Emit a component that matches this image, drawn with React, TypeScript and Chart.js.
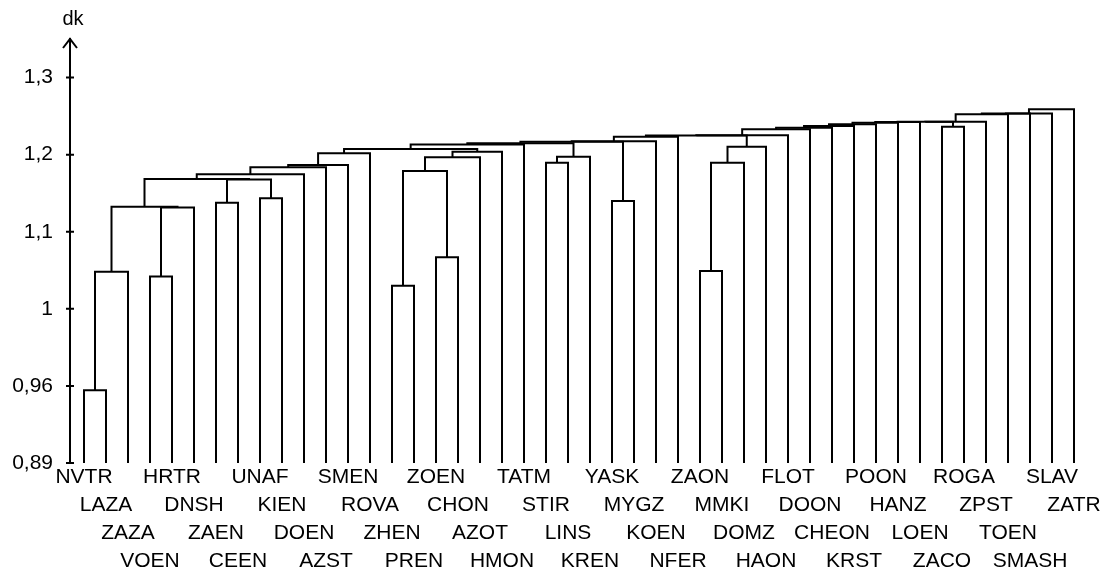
import { useEffect, useRef } from 'react';
import { Chart, registerables } from 'chart.js';

Chart.register(...registerables);

// Leaves of the dendrogram, left to right
const leafNames = [
  'NVTR', 'LAZA', 'ZAZA', 'VOEN', 'HRTR', 'DNSH', 'ZAEN', 'CEEN',
  'UNAF', 'KIEN', 'DOEN', 'AZST', 'SMEN', 'ROVA', 'ZHEN', 'PREN',
  'ZOEN', 'CHON', 'AZOT', 'HMON', 'TATM', 'STIR', 'LINS', 'KREN',
  'YASK', 'MYGZ', 'KOEN', 'NFER', 'ZAON', 'MMKI', 'DOMZ', 'HAON',
  'FLOT', 'DOON', 'CHEON', 'KRST', 'POON', 'HANZ', 'LOEN', 'ZACO',
  'ROGA', 'ZPST', 'TOEN', 'SMASH', 'SLAV', 'ZATR',
];

// Y axis tick values (non-linear scale of the original) and their labels
const yTickValues = [0.89, 0.96, 1, 1.1, 1.2, 1.3];
const yTickLabels = ['0,89', '0,96', '1', '1,1', '1,2', '1,3'];

// Merges: node ids 0..45 are leaves, merge k creates node 46 + k
const mergeLeft = [
  0, 46, 3, 48, 47, 6, 8, 51, 50, 54,
  55, 56, 57, 14, 16, 59, 61, 62, 58, 64,
  21, 66, 65, 24, 68, 70, 71, 28, 73, 74,
  72, 76, 77, 78, 79, 80, 81, 82, 39, 83,
  85, 86, 87, 88, 89,
];
const mergeRight = [
  1, 2, 4, 5, 49, 7, 9, 52, 53, 10,
  11, 12, 13, 15, 17, 60, 18, 19, 63, 20,
  22, 23, 67, 25, 69, 26, 27, 29, 30, 31,
  75, 32, 33, 34, 35, 36, 37, 38, 40, 84,
  41, 42, 43, 44, 45,
];
const mergeHeight = [
  0.956, 1.048, 1.042, 1.1315, 1.1325, 1.1376, 1.1433, 1.1678, 1.1684, 1.1745,
  1.1835, 1.1865, 1.2017, 1.030, 1.0668, 1.1787, 1.1965, 1.2038, 1.2073, 1.2131,
  1.1895, 1.1973, 1.2147, 1.1398, 1.2167, 1.2173, 1.2232, 1.049, 1.1895, 1.2103,
  1.2248, 1.2252, 1.2328, 1.2349, 1.2371, 1.2393, 1.2414, 1.2424, 1.2362, 1.2427,
  1.2428, 1.2523, 1.2533, 1.2535, 1.2588,
];

// piecewise-linear mapping of dk values onto the evenly spaced axis ticks
function toAxis(v: number): number {
  const t = yTickValues;
  for (let i = 0; i < t.length - 1; i++) {
    if (v <= t[i + 1] || i === t.length - 2) {
      return i + (v - t[i]) / (t[i + 1] - t[i]);
    }
  }
  return 0;
}

const FONT = '"Liberation Sans", Arial, sans-serif';

const axisDecor = {
  id: 'axisDecor',
  afterDraw(chart: any) {
    const ctx = chart.ctx;
    const { left, top } = chart.chartArea;
    const ys = chart.scales.y;
    ctx.save();
    ctx.strokeStyle = '#000';
    ctx.lineWidth = 2;
    ctx.beginPath();
    ctx.moveTo(left - 7, top + 9);
    ctx.lineTo(left, top);
    ctx.lineTo(left + 7, top + 9);
    yTickValues.forEach((_, i) => {
      const py = ys.getPixelForValue(i);
      ctx.moveTo(left - 4, py);
      ctx.lineTo(left + 4, py);
    });
    ctx.stroke();
    ctx.fillStyle = '#000';
    ctx.font = '20px ' + FONT;
    ctx.textAlign = 'center';
    ctx.textBaseline = 'middle';
    ctx.fillText('dk', left + 3, top - 20);
    ctx.restore();
  },
};

export default function App() {
  const ref = useRef<HTMLCanvasElement | null>(null);

  useEffect(() => {
    document.body.style.margin = '0';
    const pos: number[] = leafNames.map((_, i) => i);
    const hgt: number[] = leafNames.map(() => yTickValues[0]);
    const datasets: any[] = [];
    mergeLeft.forEach((a, k) => {
      const b = mergeRight[k];
      const h = mergeHeight[k];
      const xa = pos[a];
      const xb = pos[b];
      datasets.push({
        data: [
          { x: xa, y: toAxis(hgt[a]) },
          { x: xa, y: toAxis(h) },
          { x: xb, y: toAxis(h) },
          { x: xb, y: toAxis(hgt[b]) },
        ],
        showLine: true,
        borderColor: '#000',
        borderWidth: 2,
        pointRadius: 0,
        fill: false,
        tension: 0,
        clip: false,
      });
      pos.push((xa + xb) / 2);
      hgt.push(h);
    });

    const chart = new Chart(ref.current as HTMLCanvasElement, {
      type: 'scatter',
      data: { datasets },
      options: {
        animation: false,
        responsive: false,
        layout: { padding: { top: 39, right: 6, left: 0, bottom: 0 } },
        plugins: { legend: { display: false }, tooltip: { enabled: false } },
        scales: {
          x: {
            type: 'linear',
            min: -14 / 22,
            max: 46.5,
            grid: { display: false, drawTicks: false },
            border: { display: false },
            afterBuildTicks: (s: any) => {
              s.ticks = leafNames.map((_, i) => ({ value: i }));
            },
            afterFit: (s: any) => {
              s.height = 106;
            },
            ticks: {
              autoSkip: false,
              maxRotation: 0,
              minRotation: 0,
              padding: 0,
              color: '#000',
              font: { family: FONT, size: 21, lineHeight: 28 / 21 },
              callback: (_v: any, i: number) => [...Array(i % 4).fill(''), leafNames[i]],
            },
          },
          y: {
            type: 'linear',
            min: 0,
            max: 5.5,
            grid: { display: false, drawTicks: false },
            border: { display: true, color: '#000', width: 2 },
            afterBuildTicks: (s: any) => {
              s.ticks = yTickValues.map((_, i) => ({ value: i }));
            },
            afterFit: (s: any) => {
              s.width = 70;
            },
            ticks: {
              padding: 17,
              color: '#000',
              font: { family: FONT, size: 21 },
              callback: (_v: any, i: number) => yTickLabels[i],
            },
          },
        },
      },
      plugins: [axisDecor],
    } as any);
    return () => chart.destroy();
  }, []);

  return (
    <div style={{ width: 1113, height: 569 }}>
      <canvas ref={ref} width={1113} height={569} />
    </div>
  );
}
